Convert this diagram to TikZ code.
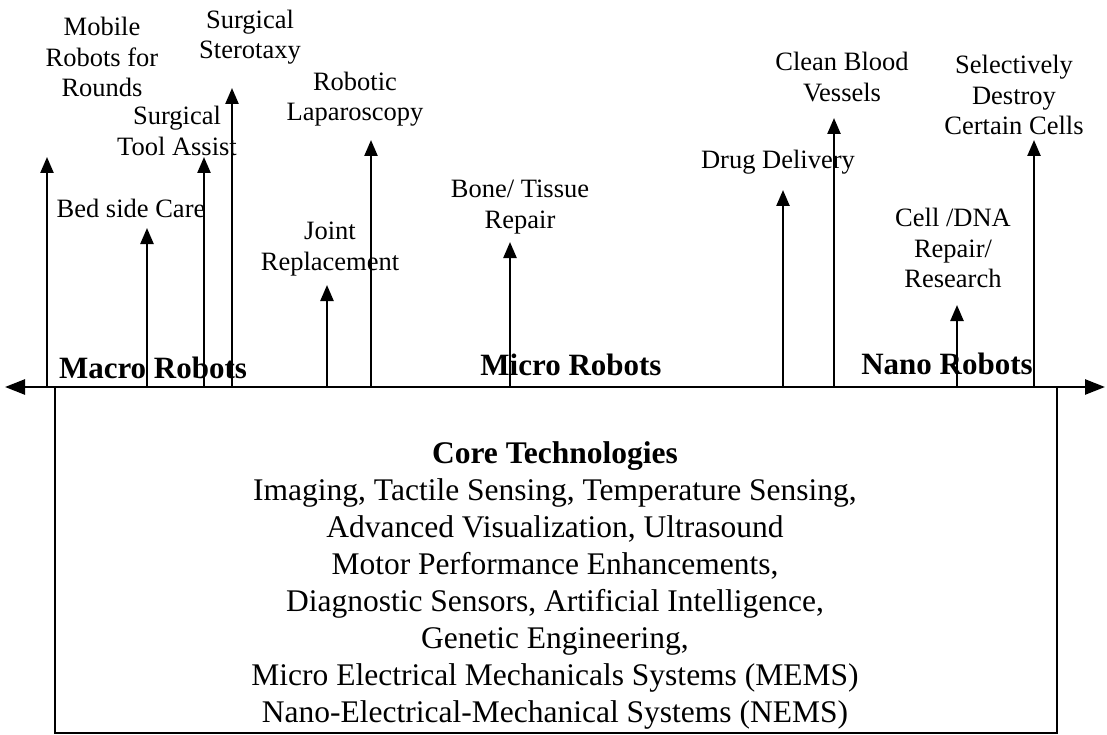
\documentclass[tikz,border=0pt]{standalone}
\usepackage{fontspec}
\setmainfont{Liberation Serif}
\usetikzlibrary{arrows.meta}

\tikzset{
  lbl/.style={align=center, inner sep=0pt, font=\fontsize{26.5}{30.5}\selectfont},
  rng/.style={inner sep=0pt, font=\fontsize{31}{36}\selectfont\bfseries},
  core/.style={align=center, inner sep=0pt, font=\fontsize{31.5}{37}\selectfont},
  vec/.style={line width=2.4pt, -{Triangle[length=16pt,width=13pt]}},
}

\begin{document}
\begin{tikzpicture}[x=1pt,y=-1pt]
\useasboundingbox (0,0) rectangle (1107,735);

% labels of the applications
\node[lbl] (mob) at (102,57) {Mobile\\Robots for\\Rounds};
\node[lbl] (ster) at (250,37) {Surgical\\Sterotaxy};
\node[lbl] (tool) at (177,131) {Surgical\\Tool Assist};
\node[lbl] (lap) at (355,99) {Robotic\\Laparoscopy};
\node[lbl] (bed) at (131,208) {Bed side Care};
\node[lbl] (joint) at (330,249) {Joint\\Replacement};
\node[lbl] (bone) at (520,207) {Bone/ Tissue\\Repair};
\node[lbl] (drug) at (778,162) {Drug Delivery};
\node[lbl] (blood) at (842,77) {Clean Blood\\Vessels};
\node[lbl] (sel) at (1014,95) {Selectively\\Destroy\\Certain Cells};
\node[lbl] (dna) at (953,248) {Cell /DNA\\Repair/\\Research};

% scale ranges
\node[rng] (macro) at (153,368) {Macro Robots};
\node[rng] (micro) at (571,365) {Micro Robots};
\node[rng] (nano) at (947,364) {Nano Robots};

% axis and box
\coordinate (axl) at (5,387);
\coordinate (axr) at (1105,387);
\draw[line width=1.5pt] (55,387) rectangle (1057,733);
\draw[line width=2.5pt, {Triangle[length=20pt,width=15pt]}-{Triangle[length=20pt,width=15pt]}] (axl) -- (axr);

\node[core] (tech) at (555,585) {\textbf{Core Technologies}\\
  Imaging, Tactile Sensing, Temperature Sensing,\\
  Advanced Visualization, Ultrasound\\
  Motor Performance Enhancements,\\
  Diagnostic Sensors, Artificial Intelligence,\\
  Genetic Engineering,\\
  Micro Electrical Mechanicals Systems (MEMS)\\
  Nano-Electrical-Mechanical Systems (NEMS)};

% arrows
\foreach \n/\x/\t in {mob/47/157, bed/147/228, tool/204/157, ster/232/88,
  joint/327/285, lap/371/140, bone/510/242, drug/783/190,
  blood/834/118, dna/957/305, sel/1034/140} {
  \coordinate (\n-b) at (\x,387);
  \coordinate (\n-t) at (\x,\t);
  \draw[vec] (\n-b) -- (\n-t);
}
\end{tikzpicture}
\end{document}
